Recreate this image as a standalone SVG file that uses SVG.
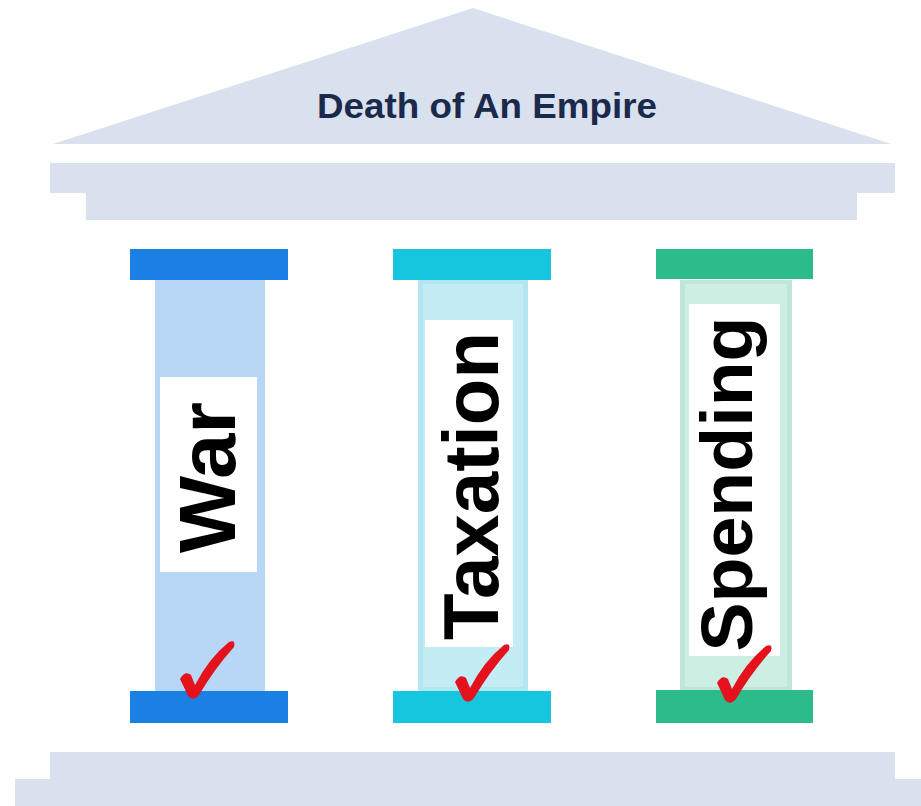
<svg xmlns="http://www.w3.org/2000/svg" width="921" height="806" viewBox="0 0 921 806">
<defs>
<style>
.temple{fill:#d9e1ef}
.lbl{fill:#ffffff}
.big{font-family:"Liberation Sans",Arial,sans-serif;font-weight:bold;fill:#000000;text-anchor:middle}
.title{font-family:"Liberation Sans",Arial,sans-serif;font-weight:bold;fill:#1b2a4a;text-anchor:middle;font-size:35px}
.check{fill:#e3121c}
</style>
<path id="chk" d="M2,38 Q7,29 13,34 L17,44 Q31,17 51,1 Q58,-2 56,6 Q37,27 21,54 Q15,61 10,55 Q6,46 2,38 Z"/>
</defs>
<rect width="921" height="806" fill="#ffffff"/>
<g id="roof">
<polygon class="temple" points="53,144 473,8 891,144"/>
<text class="title" x="487" y="118" textLength="340" lengthAdjust="spacingAndGlyphs">Death of An Empire</text>
</g>
<g id="entablature">
<rect class="temple" x="50" y="163" width="845" height="30"/>
<rect class="temple" x="86" y="192" width="771" height="28"/>
</g>
<g id="col-war">
<rect x="155" y="280" width="110" height="411" fill="#b8d7f7"/>
<rect x="130" y="249" width="158" height="31" fill="#1b80e4"/>
<rect x="130" y="691" width="158" height="32" fill="#1b80e4"/>
<rect class="lbl" x="160" y="377" width="97" height="195"/>
<text class="big" transform="translate(235,477.5) rotate(-90)" font-size="80" textLength="151" lengthAdjust="spacingAndGlyphs">War</text>
<use href="#chk" class="check" transform="translate(178,641)"/>
</g>
<g id="col-taxation">
<rect x="418" y="280" width="110" height="411" fill="#b3e6f1"/>
<rect x="423" y="284" width="100" height="403" fill="#c3ecf5"/>
<rect x="393" y="249" width="158" height="31" fill="#16c6de"/>
<rect x="393" y="691" width="158" height="32" fill="#16c6de"/>
<rect class="lbl" x="425" y="320" width="88" height="327"/>
<text class="big" transform="translate(498,486) rotate(-90)" font-size="78" textLength="308" lengthAdjust="spacingAndGlyphs">Taxation</text>
<use href="#chk" class="check" transform="translate(453,644)"/>
</g>
<g id="col-spending">
<rect x="680" y="280" width="112" height="411" fill="#bfe6d9"/>
<rect x="685" y="284" width="102" height="403" fill="#cdeee3"/>
<rect x="656" y="249" width="157" height="30" fill="#2cbb8a"/>
<rect x="656" y="690" width="157" height="33" fill="#2cbb8a"/>
<rect class="lbl" x="689" y="304" width="91" height="352"/>
<text class="big" transform="translate(752,484) rotate(-90)" font-size="72" textLength="335" lengthAdjust="spacingAndGlyphs">Spending</text>
<use href="#chk" class="check" transform="translate(715,645)"/>
</g>
<g id="base">
<rect class="temple" x="50" y="752" width="845" height="28"/>
<rect class="temple" x="15" y="779" width="906" height="27"/>
</g>
</svg>
